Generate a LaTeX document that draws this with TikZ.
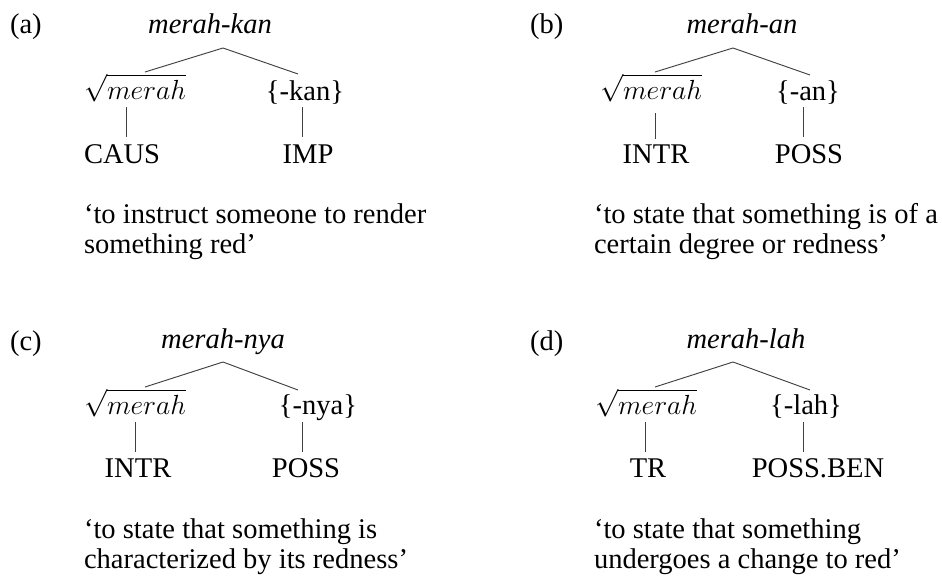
\documentclass[tikz,border=0pt]{standalone}
\usepackage{fontspec}
\setmainfont{Liberation Serif}
\begin{document}
\begin{tikzpicture}[x=0.75pt,y=-0.75pt,
  txt/.style={inner sep=0pt,outer sep=0pt,font=\fontsize{21.4}{22.3}\selectfont},
  lw/.style={txt,anchor=base west},
  lc/.style={txt,anchor=base},
  gloss/.style={txt,anchor=base west,align=left},
  branch/.style={draw=black!75,line width=0.7pt}]
\fill[white] (0,0) rectangle (942,575);
\useasboundingbox (0,0) rectangle (942,575);
% ---------- (a)
\node[lw] (la) at (10,33) {(a)};
\node[lc] (ta) at (210,33) {\textit{merah-kan}};
\node[lw] (ra) at (84,99) {$\sqrt{merah}$};
\node[lc] (sa) at (305,100) {\{-kan\}};
\node[lw] (ga) at (84,163) {CAUS};
\node[lc] (ia) at (308,163) {IMP};
\node[gloss] (gla) at (84,253) {‘to instruct someone to render\\something red’};
\coordinate (a-apex) at (223,48);
\coordinate (a-l) at (145,72);
\coordinate (a-r) at (298,74);
\coordinate (a-v1t) at (126,107); \coordinate (a-v1b) at (126,137);
\coordinate (a-v2t) at (302,107); \coordinate (a-v2b) at (302,137);
\draw[branch] (a-l) -- (a-apex) -- (a-r);
\draw[branch] (a-v1t) -- (a-v1b);
\draw[branch] (a-v2t) -- (a-v2b);
% ---------- (b)
\node[lw] (lb) at (530,33) {(b)};
\node[lc] (tb) at (742,33) {\textit{merah-an}};
\node[lw] (rb) at (600,99) {$\sqrt{merah}$};
\node[lc] (sb) at (808,100) {\{-an\}};
\node[lc] (gb) at (656,163) {INTR};
\node[lc] (ib) at (809,163) {POSS};
\node[gloss] (glb) at (594,253) {‘to state that something is of a\\certain degree or redness’};
\coordinate (b-apex) at (733,48);
\coordinate (b-l) at (655,72);
\coordinate (b-r) at (810,75);
\coordinate (b-v1t) at (655,113); \coordinate (b-v1b) at (655,139);
\coordinate (b-v2t) at (803,107); \coordinate (b-v2b) at (803,137);
\draw[branch] (b-l) -- (b-apex) -- (b-r);
\draw[branch] (b-v1t) -- (b-v1b);
\draw[branch] (b-v2t) -- (b-v2b);
% ---------- (c)
\node[lw] (lc) at (10,350) {(c)};
\node[lc] (tc) at (223,348) {\textit{merah-nya}};
\node[lw] (rc) at (84,414) {$\sqrt{merah}$};
\node[lc] (sc) at (318,414) {\{-nya\}};
\node[lc] (gc) at (138,477) {INTR};
\node[lc] (ic) at (306,477) {POSS};
\node[gloss] (glc) at (84,568) {‘to state that something is\\characterized by its redness’};
\coordinate (c-apex) at (223,362);
\coordinate (c-l) at (145,387);
\coordinate (c-r) at (298,390);
\coordinate (c-v1t) at (135,422); \coordinate (c-v1b) at (135,452);
\coordinate (c-v2t) at (302,422); \coordinate (c-v2b) at (302,452);
\draw[branch] (c-l) -- (c-apex) -- (c-r);
\draw[branch] (c-v1t) -- (c-v1b);
\draw[branch] (c-v2t) -- (c-v2b);
% ---------- (d)
\node[lw] (ld) at (530,350) {(d)};
\node[lc] (td) at (746,348) {\textit{merah-lah}};
\node[lw] (rd) at (595,414) {$\sqrt{merah}$};
\node[lc] (sd) at (806,414) {\{-lah\}};
\node[lc] (gd) at (648,477) {TR};
\node[lc] (id) at (818,477) {POSS.BEN};
\node[gloss] (gld) at (594,568) {‘to state that something\\undergoes a change to red’};
\coordinate (d-apex) at (733,362);
\coordinate (d-l) at (655,387);
\coordinate (d-r) at (810,390);
\coordinate (d-v1t) at (645,422); \coordinate (d-v1b) at (645,452);
\coordinate (d-v2t) at (803,422); \coordinate (d-v2b) at (803,452);
\draw[branch] (d-l) -- (d-apex) -- (d-r);
\draw[branch] (d-v1t) -- (d-v1b);
\draw[branch] (d-v2t) -- (d-v2b);
\end{tikzpicture}
\end{document}
